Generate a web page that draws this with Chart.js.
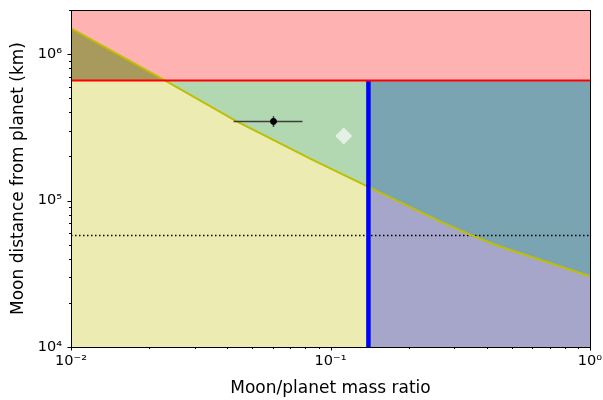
<!DOCTYPE html>
<html>
<head>
<meta charset="utf-8">
<script src="https://cdn.jsdelivr.net/npm/chart.js@4"></script>
<style>
  html, body { margin: 0; padding: 0; background: #fff; }
  #wrap { width: 603px; height: 400px; }
</style>
</head>
<body>
<div id="wrap"><canvas id="moonChart"></canvas></div>
<script>
// stability boundary: max moon distance for a given moon/planet mass ratio
const curveMass = [0.01, 0.023, 0.0435, 0.0857, 0.14, 0.264, 0.35, 0.4496, 0.701, 1];
const curveDist = [1.50e6, 6.62e5, 3.47e5, 1.89e5, 1.24e5, 7.2e4, 5.78e4, 4.86e4, 3.75e4, 3.04e4];

// Hill radius cap, mass ratio cut and the dotted reference distance
const hillDist = 6.6e5;
const massCut = 0.14;
const refDist = 5.78e4;

// measured moon with error bars
const moonMass = 0.0603, moonMassLo = 0.0423, moonMassHi = 0.078;
const moonDist = 3.47e5, moonDistLo = 3.18e5, moonDistHi = 3.77e5;

// second candidate
const candMass = 0.1125;
const candDist = 2.76e5;

// axis ticks
const xTickValues = [0.01, 0.1, 1];
const xTickLabels = ['10\u207B\u00B2', '10\u207B\u00B9', '10\u2070'];
const yTickValues = [1e4, 1e5, 1e6];
const yTickLabels = ['10\u2074', '10\u2075', '10\u2076'];

const xMin = 0.01, xMax = 1, yMin = 1e4, yMax = 2e6;

const curve = curveMass.map((m, i) => ({ x: m, y: curveDist[i] }));
const curveRight = curve.filter(p => p.x >= massCut);
const hillLine = [{ x: xMin, y: hillDist }, { x: xMax, y: hillDist }];
const hillRight = [{ x: massCut, y: hillDist }, { x: xMax, y: hillDist }];

Chart.defaults.font.family = 'DejaVu Sans';
Chart.defaults.font.size = 14.5;
Chart.defaults.color = '#000';

// frame and matplotlib-style major/minor tick marks
const frameAndTicks = {
  id: 'frameAndTicks',
  afterDraw(chart) {
    const { ctx, chartArea: a, scales: { x, y } } = chart;
    ctx.save();
    ctx.strokeStyle = '#000';
    ctx.lineWidth = 1;
    ctx.beginPath();
    for (const d of [0.01, 0.1, 1]) {
      for (let k = 1; k <= 9; k++) {
        const v = d * k;
        if (v < xMin || v > xMax * 1.0001) continue;
        const px = Math.round(x.getPixelForValue(v)) + 0.5;
        ctx.moveTo(px, a.bottom);
        ctx.lineTo(px, a.bottom + (k === 1 ? 3.5 : 2));
      }
    }
    for (const d of [1e4, 1e5, 1e6]) {
      for (let k = 1; k <= 9; k++) {
        const v = d * k;
        if (v > yMax * 1.0001) continue;
        const py = Math.round(y.getPixelForValue(v)) + 0.5;
        ctx.moveTo(a.left, py);
        ctx.lineTo(a.left - (k === 1 ? 3.5 : 2), py);
      }
    }
    ctx.stroke();
    ctx.strokeRect(Math.round(a.left) + 0.5, Math.round(a.top) + 0.5,
      Math.round(a.right - a.left), Math.round(a.bottom - a.top));
    ctx.restore();
  }
};

const area = (data, color, fill, order) => ({
  data, fill, order, backgroundColor: color,
  borderWidth: 0, pointRadius: 0, tension: 0
});

new Chart(document.getElementById('moonChart'), {
  type: 'line',
  data: {
    datasets: [
      // filled regions, back to front
      area(hillLine, '#ffb2b2', 'end', 20),
      area(hillLine, '#b2d8b2', 'start', 19),
      area(curve, '#ecebb2', 'start', 18),
      area(curve, 'rgba(0,0,0,0)', { target: { value: hillDist }, above: '#a8995c', below: 'rgba(0,0,0,0)' }, 17),
      area(hillRight, '#7aa4b2', 'start', 16),
      area(curveRight, '#a6a6cb', 'start', 15),
      // boundary lines
      {
        data: [{ x: xMin, y: refDist }, { x: xMax, y: refDist }],
        borderColor: '#000', borderWidth: 1.5, borderDash: [1.5, 2.5],
        pointRadius: 0, fill: false, order: 10
      },
      {
        data: curve, borderColor: '#bfbf00', borderWidth: 2,
        pointRadius: 0, fill: false, tension: 0, order: 9
      },
      {
        data: [{ x: massCut, y: yMin }, { x: massCut, y: hillDist }],
        borderColor: '#0000ff', borderWidth: 4.5,
        pointRadius: 0, fill: false, order: 8
      },
      {
        data: hillLine, borderColor: '#ff0000', borderWidth: 2,
        pointRadius: 0, fill: false, order: 7
      },
      // moon with error bars
      {
        data: [{ x: moonMassLo, y: moonDist }, { x: moonMassHi, y: moonDist }],
        borderColor: '#3c3c3c', borderWidth: 1.5,
        pointRadius: 0, fill: false, order: 6
      },
      {
        data: [{ x: moonMass, y: moonDistLo }, { x: moonMass, y: moonDistHi }],
        borderColor: '#3c3c3c', borderWidth: 1.5,
        pointRadius: 0, fill: false, order: 5
      },
      {
        data: [{ x: moonMass, y: moonDist }],
        showLine: false, pointRadius: 3, pointStyle: 'circle',
        pointBackgroundColor: '#000', pointBorderColor: '#000', order: 4
      },
      {
        data: [{ x: candMass, y: candDist }],
        showLine: false, pointRadius: 8.5, pointStyle: 'rectRot',
        pointBackgroundColor: '#e4f0e4', pointBorderWidth: 0, order: 3
      }
    ]
  },
  options: {
    responsive: true,
    maintainAspectRatio: false,
    animation: false,
    events: [],
    layout: { padding: { top: 10, right: 13, left: 0, bottom: 0 } },
    plugins: { legend: { display: false }, tooltip: { enabled: false } },
    scales: {
      x: {
        type: 'logarithmic', min: xMin, max: xMax,
        afterBuildTicks: s => { s.ticks = xTickValues.map(v => ({ value: v })); },
        afterFit: s => {
          s.height = 53;
          s.paddingLeft = 0;
          s.paddingRight = 0;
        },
        grid: { display: false, drawTicks: false },
        border: { display: false },
        ticks: {
          autoSkip: false, maxRotation: 0, padding: 6,
          callback: (v, i) => xTickLabels[i]
        },
        title: {
          display: true, text: 'Moon/planet mass ratio',
          font: { size: 17 },
          padding: { top: 0, bottom: 1.5 }
        }
      },
      y: {
        type: 'logarithmic', min: yMin, max: yMax,
        afterBuildTicks: s => { s.ticks = yTickValues.map(v => ({ value: v })); },
        afterFit: s => {
          s.width = 71;
          s.paddingTop = 0;
          s.paddingBottom = 0;
        },
        grid: { display: false, drawTicks: false },
        border: { display: false },
        ticks: {
          autoSkip: false, padding: 9,
          callback: (v, i) => yTickLabels[i]
        },
        title: {
          display: true, text: 'Moon distance from planet (km)',
          font: { size: 17 },
          padding: { top: 8.5, bottom: 0 }
        }
      }
    }
  },
  plugins: [frameAndTicks]
});
</script>
</body>
</html>
